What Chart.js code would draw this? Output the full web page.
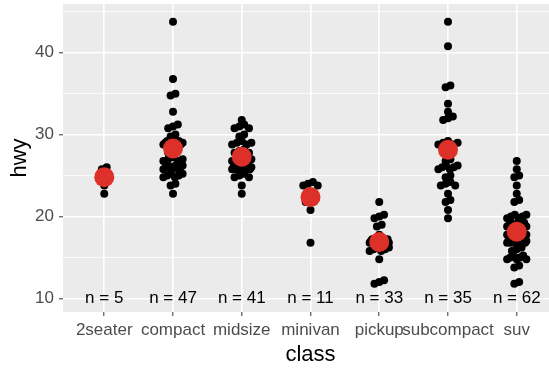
<!DOCTYPE html>
<html>
<head>
<meta charset="utf-8">
<script src="https://cdn.jsdelivr.net/npm/chart.js@4"></script>
<style>
  html, body { margin: 0; padding: 0; background: #fff; overflow: hidden; }
  canvas { display: block; }
</style>
</head>
<body>
<canvas id="chart" width="558" height="368"></canvas>
<script>
const classes = ['2seater', 'compact', 'midsize', 'minivan', 'pickup', 'subcompact', 'suv'];

const hwy2seater = [26, 23, 26, 25, 24];
const hwyCompact = [29, 29, 31, 30, 26, 26, 27, 26, 25, 28, 27, 25, 25, 25, 25, 29, 27,
  29, 27, 31, 31, 26, 26, 28, 30, 33, 35, 37, 35, 29, 29, 28, 26, 24,
  44, 29, 26, 29, 29, 29, 29, 23, 24, 26, 26, 27, 25];
const hwyMidsize = [24, 25, 23, 27, 30, 26, 29, 26, 26, 27, 30, 31, 26, 26, 28,
  31, 32, 27, 26, 26, 26, 25, 26, 26, 27, 28, 25, 29, 27, 31, 31, 26, 26, 28,
  29, 29, 28, 29, 26, 26, 25];
const hwyMinivan = [24, 24, 22, 22, 24, 24, 17, 22, 21, 23, 23];
const hwyPickup = [17, 17, 17, 16, 17, 17, 12, 17, 19, 17, 17, 16, 12, 16, 16, 17, 15, 17, 12,
  17, 17, 17, 16, 16, 17, 17, 20, 20, 22, 17, 19, 18, 20];
const hwySubcompact = [26, 25, 26, 24, 21, 22, 23, 22, 20, 33, 32, 32, 29, 32, 34, 36, 36, 29,
  26, 29, 28, 27, 24, 24, 24, 44, 41, 29, 26, 28, 29, 25, 26, 27, 26];
const hwySuv = [20, 15, 20, 17, 17, 19, 14, 15, 17, 17, 17, 12, 17, 16, 18, 15, 17, 17, 18,
  17, 19, 19, 17, 19, 19, 22, 19, 20, 17, 12, 19, 18, 14, 15, 17, 16, 15, 17, 16, 18,
  19, 18, 19, 17, 17, 17, 20, 18, 25, 24, 27, 25, 26, 23, 20, 20, 22, 17, 19, 18, 15, 15];

const hwyByClass = [hwy2seater, hwyCompact, hwyMidsize, hwyMinivan, hwyPickup, hwySubcompact, hwySuv];
const yTicks = [10, 15, 20, 25, 30, 35, 40, 45];

// spread repeated values sideways a little, like a light jitter
const points = [];
hwyByClass.forEach((vals, i) => {
  const counts = {};
  const seen = {};
  vals.forEach(v => { counts[v] = (counts[v] || 0) + 1; });
  vals.forEach(v => {
    const k = seen[v] = (seen[v] || 0) + 1;
    const m = counts[v];
    const w = Math.min(0.14, (m - 1) * 0.035);
    const dx = m > 1 ? -w + 2 * w * (k - 1) / (m - 1) : 0;
    const dy = ((k - 1) % 3 - 1) * 0.22;
    points.push({ x: i + dx, y: v + dy });
  });
});

const means = hwyByClass.map((vals, i) => ({
  x: i,
  y: vals.reduce((a, b) => a + b, 0) / vals.length
}));

const panelPlugin = {
  id: 'panel',
  beforeDraw(chart) {
    const { ctx, chartArea: a } = chart;
    ctx.save();
    ctx.fillStyle = '#EBEBEB';
    ctx.fillRect(a.left, a.top, a.right - a.left, a.bottom - a.top);
    ctx.restore();
  },
  afterDraw(chart) {
    const { ctx, scales } = chart;
    ctx.save();
    ctx.fillStyle = '#000';
    ctx.font = '17px "Liberation Sans", Arial, sans-serif';
    ctx.textAlign = 'center';
    ctx.textBaseline = 'middle';
    hwyByClass.forEach((vals, i) => {
      ctx.fillText('n = ' + vals.length, scales.x.getPixelForValue(i), scales.y.getPixelForValue(10));
    });
    ctx.restore();
  }
};

Chart.defaults.font.family = '"Liberation Sans", Arial, sans-serif';

new Chart(document.getElementById('chart'), {
  type: 'scatter',
  data: {
    datasets: [
      {
        data: means,
        pointRadius: 10,
        pointBackgroundColor: '#DD3029',
        pointBorderWidth: 0
      },
      {
        data: points,
        pointRadius: 4,
        pointBackgroundColor: '#000',
        pointBorderWidth: 0
      }
    ]
  },
  options: {
    responsive: false,
    animation: false,
    layout: { autoPadding: false, padding: { top: 4, right: 0, left: 0, bottom: 0 } },
    plugins: {
      legend: { display: false },
      tooltip: { enabled: false }
    },
    scales: {
      x: {
        type: 'linear',
        min: -0.6,
        max: 6.6,
        afterBuildTicks: s => { s.ticks = classes.map((c, i) => ({ value: i })); },
        afterFit: s => { s.height = 56; s.paddingLeft = 0; s.paddingRight = 0; },
        border: { display: false },
        grid: { color: '#fff', lineWidth: 1.6, tickColor: '#333', tickWidth: 1, tickLength: 4 },
        ticks: {
          autoSkip: false,
          maxRotation: 0,
          color: '#4D4D4D',
          font: { size: 17 },
          padding: 4,
          callback: v => classes[v]
        },
        title: { display: true, text: 'class', color: '#000', font: { size: 22 }, padding: { top: 0, bottom: 0 } }
      },
      y: {
        min: 8.33,
        max: 45.95,
        afterBuildTicks: s => { s.ticks = yTicks.map(v => ({ value: v })); },
        afterFit: s => { s.width = 63; s.paddingTop = 0; s.paddingBottom = 0; },
        border: { display: false },
        grid: {
          color: '#fff',
          lineWidth: c => (c.tick && c.tick.value % 10 === 0 ? 1.6 : 0.8),
          tickColor: c => (c.tick && c.tick.value % 10 === 0 ? '#333' : 'rgba(0,0,0,0)'),
          tickWidth: 1,
          tickLength: 4
        },
        ticks: {
          color: '#4D4D4D',
          font: { size: 17 },
          padding: 5,
          callback: v => (v % 10 === 0 ? v : '')
        },
        title: { display: true, text: 'hwy', color: '#000', font: { size: 22 }, padding: { top: 7, bottom: 0 } }
      }
    }
  },
  plugins: [panelPlugin]
});
</script>
</body>
</html>
